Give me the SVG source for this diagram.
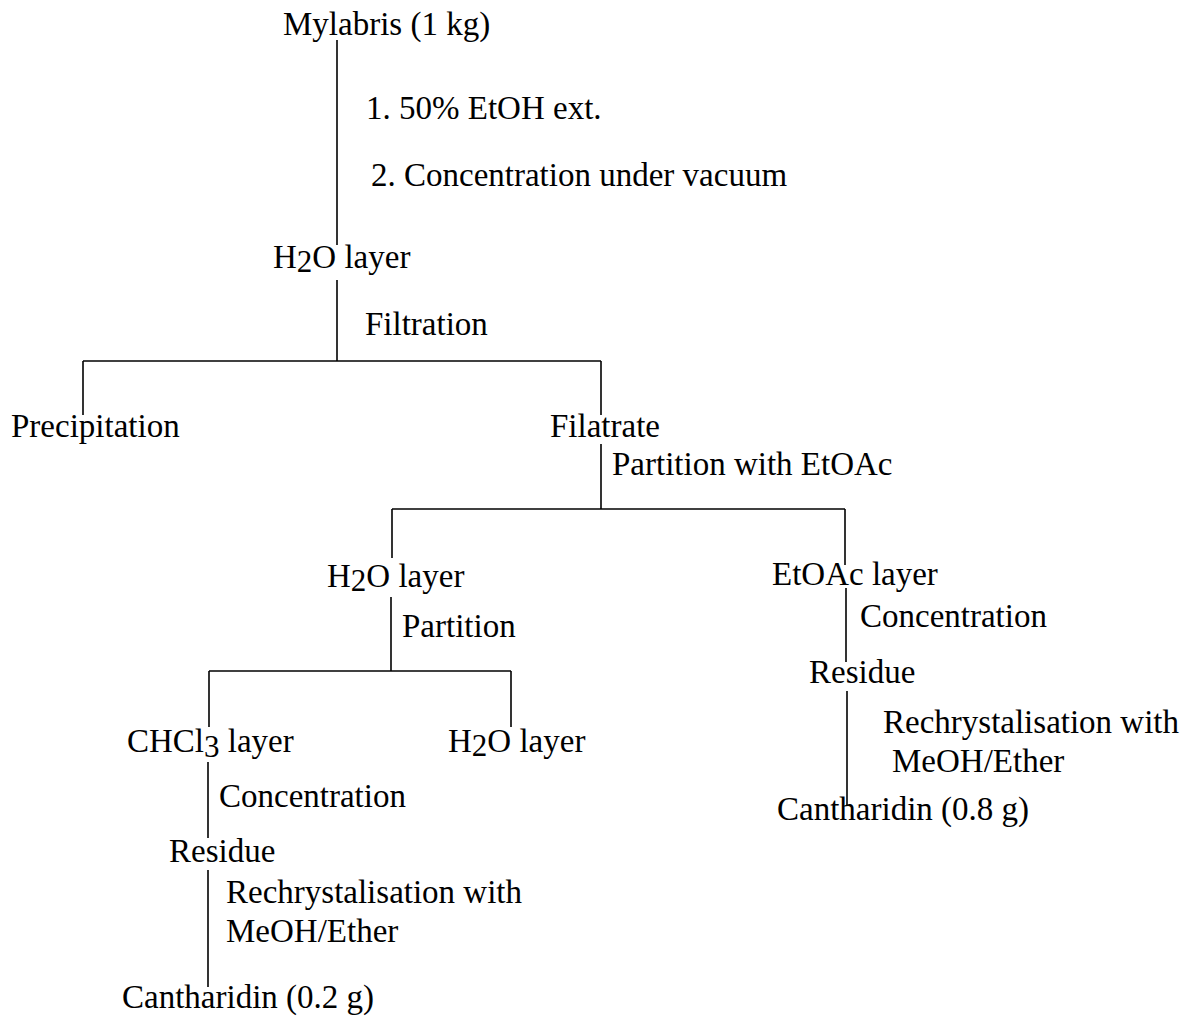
<svg xmlns="http://www.w3.org/2000/svg" width="1192" height="1018" viewBox="0 0 1192 1018">
<style>
text{font-family:"Liberation Serif","Times New Roman",serif;font-size:33px;fill:#000}
.sub{font-size:31px}
#connectors line{stroke:#000;stroke-width:1.6;fill:none}
</style>
<rect width="1192" height="1018" fill="#fff"/>
<g id="connectors">
<line x1="337" y1="40" x2="337" y2="245"/>
<line x1="337" y1="280" x2="337" y2="361"/>
<line x1="83" y1="361" x2="601" y2="361"/>
<line x1="83" y1="361" x2="83" y2="415"/>
<line x1="601" y1="361" x2="601" y2="415"/>
<line x1="601" y1="444" x2="601" y2="509"/>
<line x1="392" y1="509" x2="845" y2="509"/>
<line x1="392" y1="509" x2="392" y2="558"/>
<line x1="845" y1="509" x2="845" y2="565"/>
<line x1="391" y1="597" x2="391" y2="671"/>
<line x1="209" y1="671" x2="511" y2="671"/>
<line x1="209" y1="671" x2="209" y2="727"/>
<line x1="511" y1="671" x2="511" y2="727"/>
<line x1="208" y1="762" x2="208" y2="838"/>
<line x1="208" y1="870" x2="208" y2="987"/>
<line x1="846" y1="588" x2="846" y2="662"/>
<line x1="847" y1="691" x2="847" y2="805"/>
</g>
<g id="mylabris"><text x="283" y="35">Mylabris (1 kg)</text></g>
<g id="step1"><text x="366" y="119">1. 50% EtOH ext.</text></g>
<g id="step2"><text x="371" y="186">2. Concentration under vacuum</text></g>
<g id="h2o-layer-1"><text x="273" y="268">H<tspan class="sub" dy="4">2</tspan><tspan dy="-4">O layer</tspan></text></g>
<g id="filtration"><text x="365" y="335">Filtration</text></g>
<g id="precipitation"><text x="11" y="437">Precipitation</text></g>
<g id="filatrate"><text x="550" y="437">Filatrate</text></g>
<g id="partition-etoac"><text x="612" y="475">Partition with EtOAc</text></g>
<g id="h2o-layer-2"><text x="327" y="587">H<tspan class="sub" dy="4">2</tspan><tspan dy="-4">O layer</tspan></text></g>
<g id="partition"><text x="402" y="637">Partition</text></g>
<g id="chcl3-layer"><text x="127" y="752">CHCl<tspan class="sub" dy="5">3</tspan><tspan dy="-5"> layer</tspan></text></g>
<g id="h2o-layer-3"><text x="448" y="752">H<tspan class="sub" dy="4">2</tspan><tspan dy="-4">O layer</tspan></text></g>
<g id="concentration-left"><text x="219" y="807">Concentration</text></g>
<g id="residue-left"><text x="169" y="862">Residue</text></g>
<g id="rechrys-left"><text x="226" y="903">Rechrystalisation with</text><text x="226" y="942">MeOH/Ether</text></g>
<g id="cantharidin-02"><text x="122" y="1008">Cantharidin (0.2 g)</text></g>
<g id="etoac-layer"><text x="772" y="585">EtOAc layer</text></g>
<g id="concentration-right"><text x="860" y="627">Concentration</text></g>
<g id="residue-right"><text x="809" y="683">Residue</text></g>
<g id="rechrys-right"><text x="883" y="733">Rechrystalisation with</text><text x="892" y="772">MeOH/Ether</text></g>
<g id="cantharidin-08"><text x="777" y="820">Cantharidin (0.8 g)</text></g>
</svg>
